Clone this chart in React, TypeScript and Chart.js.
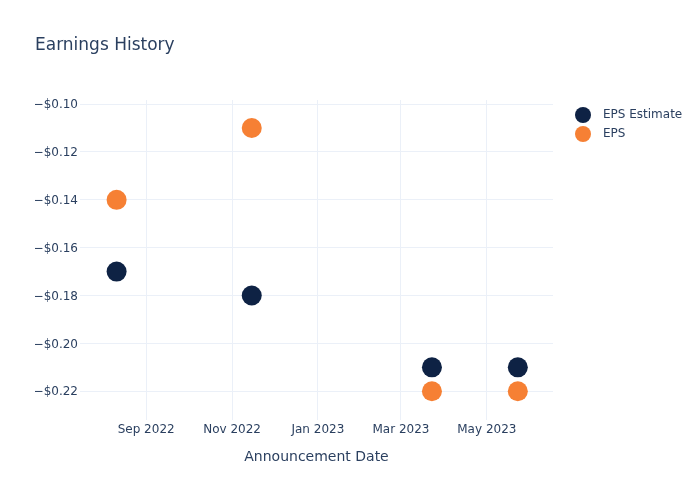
import React, { useEffect, useRef } from "react";
import { Chart, registerables } from "chart.js";

Chart.register(...registerables);

// ---- data ----
const announcementDates = ["2022-08-11", "2022-11-15", "2023-03-23", "2023-05-23"];
const epsEstimate = [-0.17, -0.18, -0.21, -0.21];
const epsActual = [-0.14, -0.11, -0.22, -0.22];

const xTickDates = ["2022-09-01", "2022-11-01", "2023-01-01", "2023-03-01", "2023-05-01"];
const xTickLabels = ["Sep 2022", "Nov 2022", "Jan 2023", "Mar 2023", "May 2023"];
const yTicks = [-0.22, -0.2, -0.18, -0.16, -0.14, -0.12, -0.1];

const xRange = ["2022-07-16", "2023-06-17"];
const yRange = [-0.232, -0.0983];

const seriesNames = ["EPS Estimate", "EPS"];
const seriesColors = ["#0e2244", "#f68034"];

const TEXT = "#2a3f5f";
const GRID = "#ebf0f8";
const FONT = "'DejaVu Sans', Verdana, Arial, sans-serif";

const ts = (d: string) => Date.parse(d + "T00:00:00Z");

const legendPlugin = {
  id: "plotlyLegend",
  afterDraw(chart: any) {
    const { ctx, chartArea } = chart;
    ctx.save();
    chart.data.datasets.forEach((ds: any, i: number) => {
      const cx = chartArea.right + 30;
      const cy = chartArea.top + 15 + i * 19;
      ctx.beginPath();
      ctx.arc(cx, cy, 8, 0, Math.PI * 2);
      ctx.fillStyle = ds.backgroundColor;
      ctx.fill();
      ctx.fillStyle = TEXT;
      ctx.font = `12px ${FONT}`;
      ctx.textAlign = "left";
      ctx.textBaseline = "middle";
      ctx.fillText(ds.label, cx + 20, cy);
    });
    ctx.restore();
  },
};

export default function App() {
  const ref = useRef<HTMLCanvasElement | null>(null);

  useEffect(() => {
    if (!ref.current) return;
    const mk = (vals: number[]) =>
      announcementDates.map((d, i) => ({ x: ts(d), y: vals[i] }));

    const chart = new Chart(ref.current, {
      type: "scatter",
      data: {
        datasets: [
          {
            label: seriesNames[0],
            data: mk(epsEstimate),
            backgroundColor: seriesColors[0],
            borderColor: seriesColors[0],
            borderWidth: 0,
            pointRadius: 10,
            pointHoverRadius: 10,
            pointBorderWidth: 0,
            pointHoverBorderWidth: 0,
          },
          {
            label: seriesNames[1],
            data: mk(epsActual),
            backgroundColor: seriesColors[1],
            borderColor: seriesColors[1],
            borderWidth: 0,
            pointRadius: 10,
            pointHoverRadius: 10,
            pointBorderWidth: 0,
            pointHoverBorderWidth: 0,
          },
        ],
      },
      options: {
        animation: false,
        responsive: false,
        events: [],
        layout: { padding: { left: 35, right: 147, top: 0, bottom: 0 } },
        plugins: {
          legend: { display: false },
          tooltip: { enabled: false },
          title: {
            display: true,
            text: "Earnings History",
            align: "start",
            color: TEXT,
            font: { family: FONT, size: 17, weight: "normal" },
            padding: { top: 35, bottom: 44.6 },
          },
        },
        scales: {
          x: {
            type: "linear",
            min: ts(xRange[0]),
            max: ts(xRange[1]),
            border: { display: false },
            grid: { color: GRID, lineWidth: 1, drawTicks: false },
            afterBuildTicks: (axis: any) => {
              axis.ticks = xTickDates.map((d) => ({ value: ts(d) }));
            },
            afterFit: (axis: any) => {
              axis.height = 80;
            },
            ticks: {
              color: TEXT,
              padding: 3,
              maxRotation: 0,
              autoSkip: false,
              font: { family: FONT, size: 12 },
              callback: (v: any) => {
                const idx = xTickDates.findIndex((d) => ts(d) === v);
                return idx >= 0 ? xTickLabels[idx] : "";
              },
            },
            title: {
              display: true,
              text: "Announcement Date",
              color: TEXT,
              font: { family: FONT, size: 14 },
              padding: { top: 0, bottom: 34.6 },
            },
          },
          y: {
            type: "linear",
            min: yRange[0],
            max: yRange[1],
            border: { display: false },
            grid: { color: GRID, lineWidth: 1, drawTicks: false },
            afterBuildTicks: (axis: any) => {
              axis.ticks = yTicks.map((v) => ({ value: v }));
            },
            afterFit: (axis: any) => {
              axis.width = 45;
            },
            ticks: {
              color: TEXT,
              padding: 2,
              labelOffset: 1,
              font: { family: FONT, size: 12 },
              callback: (v: any) => {
                const n = Number(v);
                return (n < 0 ? "\u2212" : "") + "$" + Math.abs(n).toFixed(2);
              },
            },
          },
        },
      },
      plugins: [legendPlugin],
    });
    return () => chart.destroy();
  }, []);

  return (
    <div style={{ position: "fixed", left: 0, top: 0, width: 700, height: 500, background: "#fff" }}>
      <canvas ref={ref} width={700} height={500} style={{ width: 700, height: 500 }} />
    </div>
  );
}
